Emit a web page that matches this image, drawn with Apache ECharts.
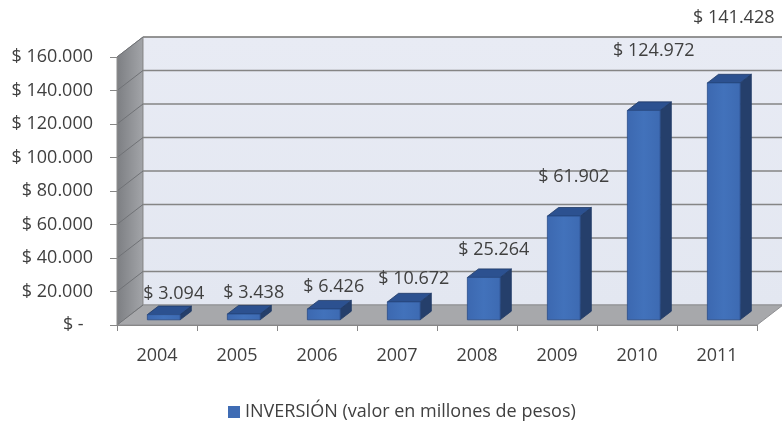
<!DOCTYPE html>
<html>
<head>
<meta charset="utf-8">
<script src="https://cdn.jsdelivr.net/npm/echarts@6/dist/echarts.min.js"></script>
<style>
html,body{margin:0;padding:0;background:#fff;}
#c{width:782px;height:423px;}
</style>
</head>
<body>
<div id="c"></div>
<script>
const categories = ['2004', '2005', '2006', '2007', '2008', '2009', '2010', '2011'];
const values = [3094, 3438, 6426, 10672, 25264, 61902, 124972, 141428];
const yMin = 0, yMax = 160000, yStep = 20000;
const seriesName = 'INVERSIÓN (valor en millones de pesos)';

const FONT = 'Open Sans';
const FS = 18;
const TXT = '#404040';
const DEPTH = [26, -20];

function fmt(v) {
  if (v === 0) return '$ -\u00a0\u00a0';
  return '$ ' + String(v).replace(/\B(?=(\d{3})+(?!\d))/g, '.');
}

const ticks = [];
for (let t = yMin; t <= yMax; t += yStep) ticks.push(t);

const chart = echarts.init(document.getElementById('c'));

function renderWalls(params, api) {
  const cs = params.coordSys;
  const x0 = cs.x, x1 = cs.x + cs.width, yT = cs.y, yB = cs.y + cs.height;
  const dx = DEPTH[0], dy = DEPTH[1];
  const children = [];
  children.push({
    type: 'polygon',
    shape: { points: [[x0, yB], [x0, yT], [x0 + dx, yT + dy], [x0 + dx, yB + dy]] },
    style: {
      fill: new echarts.graphic.LinearGradient(0, 0, 1, 0, [
        { offset: 0, color: '#7c7e82' }, { offset: 1, color: '#a3a5a9' }
      ]),
      stroke: '#8a8c90', lineWidth: 1
    }
  });
  children.push({
    type: 'rect',
    shape: { x: x0 + dx, y: yT + dy, width: cs.width, height: cs.height },
    style: {
      fill: new echarts.graphic.LinearGradient(0, 0, 0, 1, [
        { offset: 0, color: '#e8ebf4' }, { offset: 1, color: '#e3e7f1' }
      ]),
      stroke: '#8c8c8c', lineWidth: 1
    }
  });
  children.push({
    type: 'polygon',
    shape: { points: [[x0, yB], [x1, yB], [x1 + dx, yB + dy], [x0 + dx, yB + dy]] },
    style: { fill: '#a7a8ab', stroke: '#8e8f92', lineWidth: 1 }
  });
  ticks.forEach(function (t) {
    const y = api.coord([0, t])[1];
    if (t > yMin) {
      children.push({
        type: 'line',
        shape: { x1: x0 + dx, y1: y + dy, x2: x1 + dx, y2: y + dy },
        style: { stroke: '#858585', lineWidth: 1.7 }
      });
    }
    children.push({
      type: 'line',
      shape: { x1: x0, y1: y, x2: x0 + dx, y2: y + dy },
      style: { stroke: '#707276', lineWidth: 1 }
    });
  });
  return { type: 'group', children: children };
}

function renderBar(params, api) {
  const i = api.value(0), v = api.value(1);
  const c0 = api.coord([i, 0]);
  const c1 = api.coord([i, v]);
  const bw = api.size([1, 0])[0];
  const w = bw * 0.41;
  const ox = DEPTH[0] * 0.26, oy = DEPTH[1] * 0.26;
  const bdx = DEPTH[0] * 0.43, bdy = DEPTH[1] * 0.43;
  const xl = c0[0] - w / 2 + ox, xr = c0[0] + w / 2 + ox;
  const yb = c0[1] + oy, yt = c1[1] + oy;
  const h = yb - yt;
  const edge = '#1f3a66';
  return {
    type: 'group',
    children: [
      {
        type: 'polygon',
        shape: { points: [[xr, yt], [xr + bdx, yt + bdy], [xr + bdx, yb + bdy], [xr, yb]] },
        style: { fill: '#253f6b', stroke: edge, lineWidth: 0.8 }
      },
      {
        type: 'polygon',
        shape: { points: [[xl, yt], [xr, yt], [xr + bdx, yt + bdy], [xl + bdx, yt + bdy]] },
        style: { fill: '#2c5190', stroke: edge, lineWidth: 0.8 }
      },
      {
        type: 'rect',
        shape: { x: xl, y: yt, width: xr - xl, height: h },
        style: {
          fill: new echarts.graphic.LinearGradient(0, 0, 1, 0, [
            { offset: 0, color: '#3c68b0' }, { offset: 0.5, color: '#4272bb' }, { offset: 1, color: '#3d6ab2' }
          ]),
          stroke: '#2a4d88', lineWidth: 0.8
        }
      },
      {
        type: 'text',
        x: (xl + xr) / 2 + 10,
        y: yt - (20 + 0.19 * h),
        style: {
          text: fmt(v),
          fill: TXT,
          font: FS + 'px "' + FONT + '"',
          align: 'center',
          verticalAlign: 'middle'
        }
      }
    ]
  };
}

chart.setOption({
  animation: false,
  backgroundColor: '#ffffff',
  grid: { left: 117, top: 57, width: 640, height: 268, outerBoundsMode: 'none' },
  legend: {
    data: [seriesName],
    left: 223,
    top: 398,
    icon: 'rect',
    itemWidth: 12,
    itemHeight: 12,
    itemGap: 10,
    textStyle: { color: TXT, fontSize: FS, fontFamily: FONT }
  },
  xAxis: {
    type: 'category',
    data: categories,
    boundaryGap: true,
    axisLine: { show: true, lineStyle: { color: '#878787', width: 1 } },
    axisTick: { show: true, alignWithLabel: false, length: 6, lineStyle: { color: '#878787' } },
    axisLabel: { color: TXT, fontSize: FS, fontFamily: FONT, margin: 22 },
    z: 5
  },
  yAxis: {
    type: 'value',
    min: yMin,
    max: yMax,
    interval: yStep,
    splitLine: { show: false },
    axisLine: { show: true, lineStyle: { color: '#878787', width: 1 } },
    axisTick: { show: true, length: 7, lineStyle: { color: '#878787' } },
    axisLabel: { color: TXT, fontSize: FS, fontFamily: FONT, margin: 24, formatter: fmt },
    z: 5
  },
  series: [
    {
      name: 'walls',
      type: 'custom',
      renderItem: renderWalls,
      data: [[0, 0]],
      silent: true,
      z: 1,
      clip: false
    },
    {
      name: seriesName,
      type: 'custom',
      renderItem: renderBar,
      data: values.map(function (v, i) { return [i, v]; }),
      itemStyle: { color: '#3f6cb4' },
      encode: { x: 0, y: 1 },
      z: 3,
      clip: false
    }
  ]
});
</script>
</body>
</html>
